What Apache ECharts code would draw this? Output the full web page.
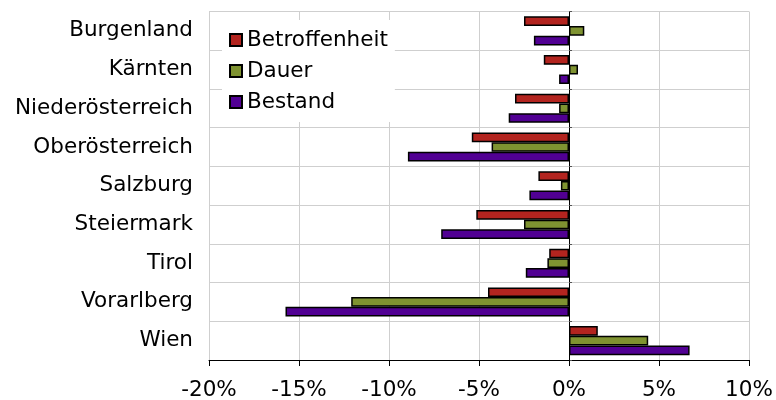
<!DOCTYPE html>
<html lang="de">
<head>
    <meta charset="UTF-8">
    <title>Veränderung nach Bundesland</title>
    <script src="https://cdn.jsdelivr.net/npm/echarts@6/dist/echarts.min.js"></script>
</head>
<body style="margin:0">
    <div id="main" style="width: 776px;height:400px;"></div>
    <script type="text/javascript">

        // Bundesländer (oben nach unten)
        var laender = ['Burgenland', 'Kärnten', 'Niederösterreich', 'Oberösterreich', 'Salzburg',
                       'Steiermark', 'Tirol', 'Vorarlberg', 'Wien'];

        // Werte in Prozent
        var betroffenheit = [-2.5, -1.4, -3.0, -5.4, -1.7, -5.15, -1.1, -4.5, 1.6];
        var dauer         = [0.85, 0.5, -0.55, -4.3, -0.45, -2.5, -1.2, -12.1, 4.4];
        var bestand       = [-1.95, -0.55, -3.35, -8.95, -2.2, -7.1, -2.4, -15.75, 6.7];

        // Achsenbeschriftung
        var xMin = -20, xMax = 10, xStep = 5;

        var schrift = 'DejaVu Sans, Verdana, sans-serif';
        var gross = 21.5;
        var rand = {borderColor: '#000', borderWidth: 1.5};

        var myChart = echarts.init(document.getElementById('main'));

        var option = {
            animation: false,
            textStyle: {fontFamily: schrift},
            // feste Plotfläche, Beschriftung darf hinausragen
            grid: {left: 209, right: 27, top: 11.5, bottom: 40, outerBoundsMode: 'none'},
            legend: {
                orient: 'vertical',
                left: 222,
                top: 20,
                backgroundColor: '#fff',
                padding: [9, 7, 9, 7],
                itemWidth: 12,
                itemHeight: 12,
                itemGap: 9,
                itemTextGap: 10,
                icon: 'rect',
                textStyle: {fontSize: gross, color: '#000', fontFamily: schrift},
                data: ['Betroffenheit', 'Dauer', 'Bestand']
            },
            xAxis: {
                type: 'value',
                min: xMin,
                max: xMax,
                interval: xStep,
                axisLine: {show: true, onZero: false, lineStyle: {color: '#000'}},
                axisTick: {show: true, length: 6, lineStyle: {color: '#000'}},
                axisLabel: {formatter: '{value}%', fontSize: gross, color: '#000', margin: 19},
                splitLine: {lineStyle: {color: '#cfcfcf'}}
            },
            yAxis: [
                {
                    type: 'category',
                    inverse: true,
                    data: laender,
                    axisLine: {show: false, onZero: false},
                    axisTick: {show: false},
                    axisLabel: {fontSize: gross, color: '#000', margin: 16},
                    splitLine: {show: true, lineStyle: {color: '#cfcfcf'}}
                },
                {
                    // Nulllinie mit Strichen
                    type: 'category',
                    inverse: true,
                    data: laender,
                    axisLine: {show: true, onZero: true, lineStyle: {color: '#000'}},
                    axisTick: {show: true, length: 3, lineStyle: {color: '#555'}},
                    axisLabel: {show: false},
                    splitLine: {show: false}
                }
            ],
            series: [
                {
                    name: 'Betroffenheit',
                    type: 'bar',
                    data: betroffenheit,
                    barGap: 0,
                    barCategoryGap: '25%',
                    itemStyle: Object.assign({color: '#B3241F'}, rand)
                },
                {
                    name: 'Dauer',
                    type: 'bar',
                    data: dauer,
                    barGap: 0,
                    barCategoryGap: '25%',
                    itemStyle: Object.assign({color: '#7F9331'}, rand)
                },
                {
                    name: 'Bestand',
                    type: 'bar',
                    data: bestand,
                    barGap: 0,
                    barCategoryGap: '25%',
                    itemStyle: Object.assign({color: '#510093'}, rand)
                }
            ]
        };

        myChart.setOption(option);

    </script>
</body>
</html>
